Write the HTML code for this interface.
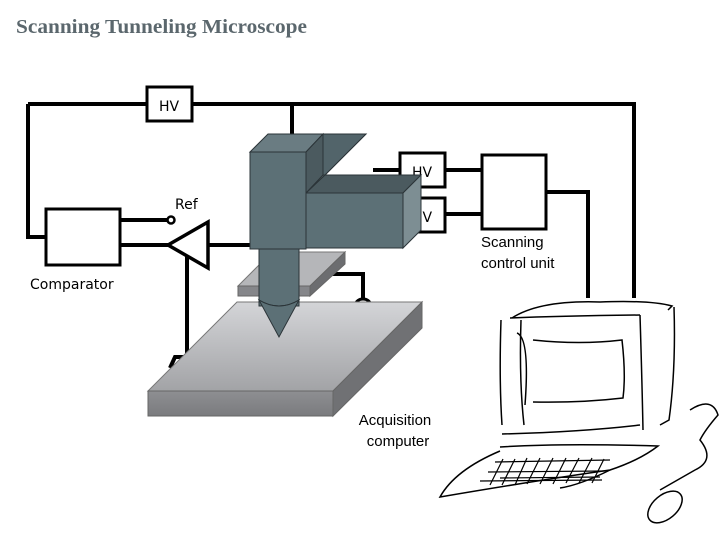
<!DOCTYPE html>
<html><head><meta charset="utf-8"><style>
html,body{margin:0;padding:0;background:#fff;}
svg{display:block}
</style></head><body>
<svg width="720" height="540" viewBox="0 0 720 540" xmlns="http://www.w3.org/2000/svg">
<defs>
<linearGradient id="pg" x1="0" y1="0" x2="0" y2="1"><stop offset="0" stop-color="#d4d5d8"/><stop offset="1" stop-color="#a2a3a6"/></linearGradient>
<linearGradient id="pf" x1="0" y1="0" x2="0" y2="1"><stop offset="0" stop-color="#8e8f92"/><stop offset="1" stop-color="#7a7b7e"/></linearGradient>
</defs>
<text x="16" y="33" font-family="Liberation Serif, serif" font-weight="bold" font-size="20" fill="#5b676d" textLength="291" lengthAdjust="spacingAndGlyphs">Scanning Tunneling Microscope</text>
<g stroke="#000" stroke-width="4" fill="none">
<polyline points="28,104 634,104 634,298"/>
<polyline points="28,104 28,237 45,237"/>
<line x1="292" y1="104" x2="292" y2="134"/>
<line x1="120" y1="220" x2="167" y2="220"/>
<line x1="120" y1="245" x2="168" y2="245"/>
<line x1="208" y1="245" x2="252" y2="245"/>
<polyline points="187,256 187,357 175,357 170,368"/>
<line x1="373" y1="170" x2="400" y2="170"/>
<line x1="445" y1="170" x2="481" y2="170"/>
<line x1="445" y1="214" x2="481" y2="214"/>
<polyline points="546,192 588,192 588,298"/>
<polyline points="328,274 363,274 363,300"/>
</g>
<path d="M356,304 a7,5 0 0 1 14,0" stroke="#000" stroke-width="3" fill="none"/>
<rect x="147" y="87" width="45" height="34" fill="#fff" stroke="#000" stroke-width="3"/>
<text x="169" y="111" text-anchor="middle" font-family="DejaVu Sans, sans-serif" font-size="14">HV</text>
<rect x="46" y="209" width="74" height="56" fill="#fff" stroke="#000" stroke-width="3"/>
<text x="30" y="289" font-family="DejaVu Sans, sans-serif" font-size="14">Comparator</text>
<circle cx="171" cy="220" r="3.5" fill="#fff" stroke="#000" stroke-width="2.5"/>
<text x="175" y="209" font-family="DejaVu Sans, sans-serif" font-size="14">Ref</text>
<polygon points="168,245 208,222 208,268" fill="#fff" stroke="#000" stroke-width="3.5"/>
<rect x="400" y="153" width="45" height="34" fill="#fff" stroke="#000" stroke-width="3"/>
<text x="422" y="177" text-anchor="middle" font-family="DejaVu Sans, sans-serif" font-size="14">HV</text>
<rect x="400" y="198" width="45" height="34" fill="#fff" stroke="#000" stroke-width="3"/>
<text x="422" y="222" text-anchor="middle" font-family="DejaVu Sans, sans-serif" font-size="14">HV</text>
<rect x="482" y="155" width="64" height="74" fill="#fff" stroke="#000" stroke-width="3"/>
<text x="481" y="247" font-family="Liberation Sans, sans-serif" font-size="15">Scanning</text>
<text x="481" y="268" font-family="Liberation Sans, sans-serif" font-size="15">control unit</text>
<polygon points="237,302 422,302 333,391 148,391" fill="url(#pg)" stroke="#777" stroke-width="1"/>
<rect x="148" y="391" width="185" height="25" fill="url(#pf)" stroke="#666" stroke-width="1"/>
<polygon points="333,391 422,302 422,328 333,416" fill="#707174" stroke="#666" stroke-width="1"/>
<polygon points="272,252 345,252 310,286 238,286" fill="#b5b6b9" stroke="#777" stroke-width="1"/>
<rect x="238" y="286" width="72" height="10" fill="#85868a" stroke="#666" stroke-width="1"/>
<polygon points="310,286 345,252 345,264 310,296" fill="#6c6d70" stroke="#666" stroke-width="1"/>
<g stroke="#2b3438" stroke-width="1">
<polygon points="306,152 323,134 366,134 325,175 306,193" fill="#7b8b90"/>
<polygon points="323,134 366,134 325,175 323,175" fill="#52646a"/>
<polygon points="306,193 325,175 421,175 403,193" fill="#4b5a5f"/>
<rect x="306" y="193" width="97" height="55" fill="#5c7076"/>
<polygon points="403,193 421,175 421,230 403,248" fill="#7d8e93"/>
<polygon points="250,152 268,134 323,134 306,152" fill="#6a7c82"/>
<polygon points="306,152 323,134 323,175 306,193" fill="#4b5a5f"/>
<rect x="250" y="152" width="56" height="97" fill="#5c7076"/>
<rect x="259" y="249" width="40" height="57" fill="#5c7076"/>
<path d="M259,300 Q279,312 299,300 L279,337 Z" fill="#5c7076"/>
<path d="M259,300 Q279,312 299,300" fill="none"/>
</g>
<text x="395" y="425" text-anchor="middle" font-family="Liberation Sans, sans-serif" font-size="15">Acquisition</text>
<text x="398" y="446" text-anchor="middle" font-family="Liberation Sans, sans-serif" font-size="15">computer</text>
<g stroke="#000" stroke-width="1.5" fill="none">
<path d="M512,318 Q540,300 600,302 Q650,300 672,306 L668,310"/>
<path d="M510,318 Q560,316 640,315"/>
<path d="M501,320 Q499,380 502,425"/>
<path d="M521,320 Q519,380 524,425"/>
<path d="M640,315 Q642,380 643,430"/>
<path d="M674,307 Q676,370 669,420 L660,425"/>
<path d="M517,333 Q530,338 525,405"/>
<path d="M533,340 Q580,345 622,340 Q626,375 623,398 Q580,403 533,402"/>
<path d="M502,434 Q580,432 640,425"/>
<path d="M500,447 Q560,443 658,446 Q640,460 610,470 Q540,480 440,497 Q455,470 500,451"/>
<path d="M610,470 Q580,485 560,488"/>
<path d="M690,410 Q712,396 718,415 Q705,430 700,440 Q716,460 695,470 L660,490"/>
<ellipse cx="665" cy="507" rx="20" ry="12" transform="rotate(-40 665 507)"/>
</g>
<g stroke="#000" stroke-width="1.2" fill="none">
<line x1="495" y1="462" x2="610" y2="460"/>
<line x1="488" y1="472" x2="605" y2="471"/>
<line x1="480" y1="481" x2="602" y2="480"/>
<line x1="500" y1="478" x2="600" y2="477"/>
<path d="M503,459 L490,485 M515,459 L502,485 M527,458 L515,485 M540,458 L527,484 M553,458 L540,484 M566,458 L553,484 M579,458 L566,483 M592,458 L579,483 M604,459 L592,483"/>
</g>
</svg>
</body></html>
